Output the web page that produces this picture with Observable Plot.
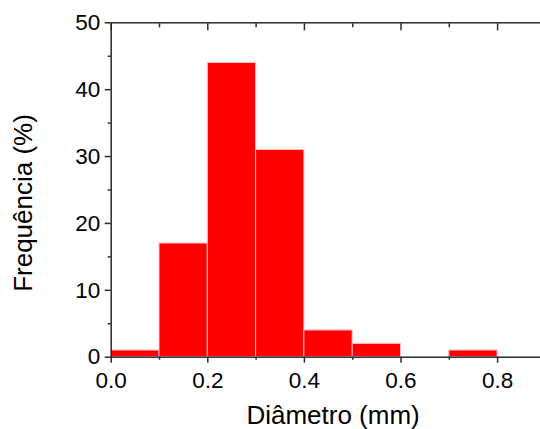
<!DOCTYPE html>
<html>
<head>
<meta charset="utf-8">
<script src="https://cdn.jsdelivr.net/npm/d3@7"></script>
<script src="https://cdn.jsdelivr.net/npm/@observablehq/plot@0.6"></script>
<style>
  html, body { margin: 0; padding: 0; background: #fff; }
  #chart { width: 540px; height: 429px; overflow: hidden; }
  #chart svg { overflow: hidden; max-width: none; }
</style>
</head>
<body>
<div id="chart"></div>
<script>
// Particle diameter histogram (bin edges in mm, frequency in %)
const binStart = [0.0, 0.1, 0.2, 0.3, 0.4, 0.5, 0.6, 0.7, 0.8];
const binEnd   = [0.1, 0.2, 0.3, 0.4, 0.5, 0.6, 0.7, 0.8, 0.9];
const freq     = [1, 17, 44, 31, 4, 2, 0, 1, 0];

// Axis ticks
const xMajor = [0.0, 0.2, 0.4, 0.6, 0.8];
const xMinor = [0.1, 0.3, 0.5, 0.7];
const yMajor = [0, 10, 20, 30, 40, 50];
const yMinor = [5, 15, 25, 35, 45];

const xTitle = "Diâmetro (mm)";
const yTitle = "Frequência (%)";

const bins = binStart.map((x1, i) => ({x1, x2: binEnd[i], freq: freq[i]}));

const axisColor = "#2b2b2b";
const font = "'Liberation Sans', Arial, Helvetica, sans-serif";

const chart = Plot.plot({
  width: 546,
  height: 429,
  marginLeft: 110.7,
  marginRight: 0.6,
  marginTop: 22.3,
  marginBottom: 72.3,
  style: {fontFamily: font, color: "#000", background: "#fff"},
  x: {domain: [0, 0.9]},
  y: {domain: [0, 50]},
  marks: [
    Plot.rectY(bins, {
      filter: d => d.freq > 0,
      x1: "x1", x2: "x2", y: "freq",
      fill: "#ff0000", stroke: "#ffc4c4", strokeWidth: 1
    }),
    // bottom axis: labelled major ticks and short minor ticks, outward
    Plot.axisX({anchor: "bottom", ticks: xMajor, tickSize: 6, tickPadding: 9,
      tickFormat: d3.format(".1f"), fontSize: 22.5, stroke: axisColor, strokeWidth: 1.5, label: null}),
    Plot.axisX({anchor: "bottom", ticks: xMinor, tickSize: 3, fill: "none",
      stroke: axisColor, strokeWidth: 1.5, label: null}),
    // top axis: inward ticks only
    Plot.axisX({anchor: "top", ticks: xMajor, tickSize: 7, dy: 7, fill: "none",
      stroke: axisColor, strokeWidth: 1.5, label: null}),
    Plot.axisX({anchor: "top", ticks: xMinor, tickSize: 4, dy: 4, fill: "none",
      stroke: axisColor, strokeWidth: 1.5, label: null}),
    // left axis: labelled major ticks and minor ticks, outward
    Plot.axisY({anchor: "left", ticks: yMajor, tickSize: 6, tickPadding: 5,
      tickFormat: d3.format("d"), fontSize: 22.5, stroke: axisColor, strokeWidth: 1.5, label: null}),
    Plot.axisY({anchor: "left", ticks: yMinor, tickSize: 3, fill: "none",
      stroke: axisColor, strokeWidth: 1.5, label: null}),
    // right axis: inward major ticks
    Plot.axisY({anchor: "right", ticks: yMajor, tickSize: 6, dx: -6, fill: "none",
      stroke: axisColor, strokeWidth: 1.5, label: null}),
    Plot.frame({stroke: axisColor, strokeWidth: 1.5}),
    // axis titles
    Plot.text([xTitle], {text: d => d, frameAnchor: "bottom", textAnchor: "middle", lineAnchor: "top",
      dx: 4.5, dy: 48, fontSize: 26, fill: "#000"}),
    Plot.text([yTitle], {text: d => d, frameAnchor: "left", textAnchor: "middle", lineAnchor: "middle",
      rotate: -90, dx: -87.5, dy: 13, fontSize: 26, fill: "#000"})
  ]
});

document.getElementById("chart").append(chart);
</script>
</body>
</html>
